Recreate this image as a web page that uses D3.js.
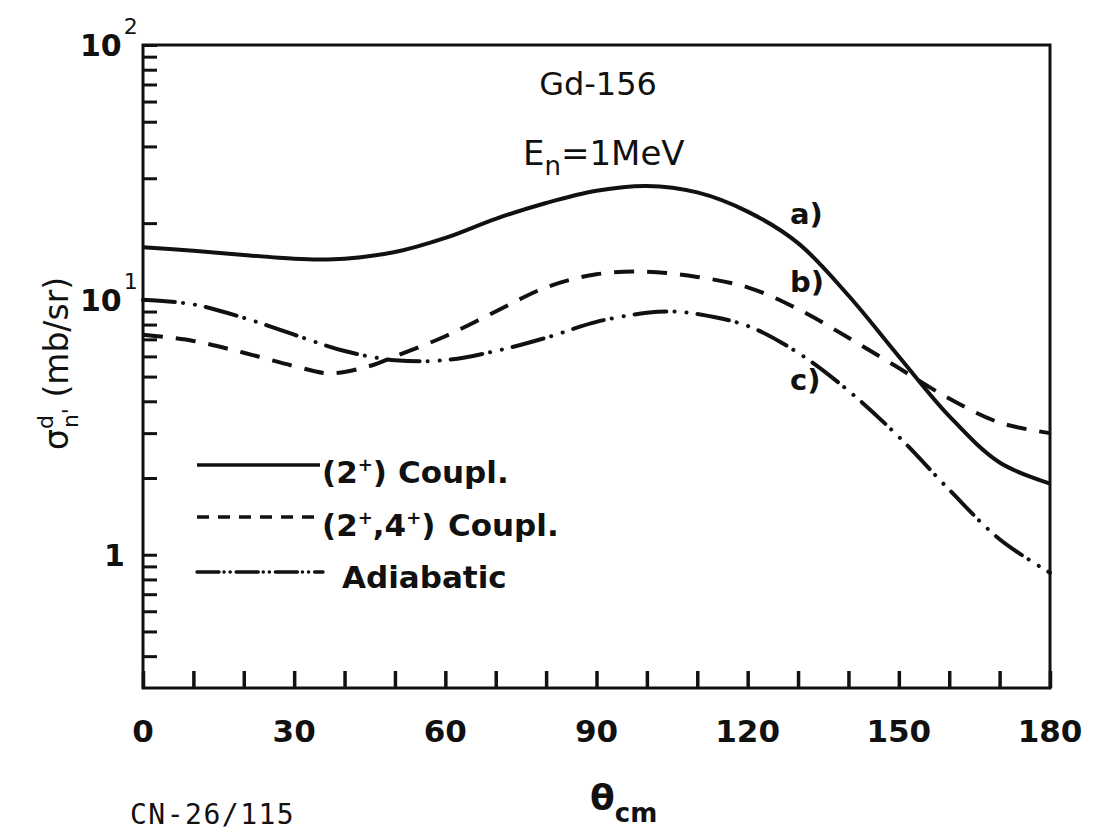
<!DOCTYPE html>
<html>
<head>
<meta charset="utf-8">
<script src="https://cdn.jsdelivr.net/npm/d3@7"></script>
<style>
  html, body { margin: 0; padding: 0; background: #fff; }
  svg { display: block; }
  text { fill: #111; }
</style>
</head>
<body>
<svg id="chart" width="1093" height="834"></svg>
<script>
// ---------------- data ----------------
const thetaA = [0, 10, 20, 30, 35, 40, 50, 60, 70, 80, 90, 100, 110, 120, 130, 140, 150, 160, 170, 180];
const coupl2 = [16.1, 15.6, 15.0, 14.5, 14.4, 14.5, 15.4, 17.5, 20.8, 24.0, 26.8, 28.0, 26.4, 22.2, 16.7, 10.4, 6.0, 3.5, 2.3, 1.9];

const thetaB = [0, 10, 20, 30, 37, 45, 50, 60, 70, 80, 90, 100, 110, 120, 130, 140, 150, 160, 170, 180];
const coupl24 = [7.3, 6.9, 6.2, 5.5, 5.15, 5.5, 6.0, 7.2, 9.0, 11.2, 12.6, 12.9, 12.3, 11.2, 9.2, 7.1, 5.4, 4.1, 3.3, 3.0];

const thetaC = [0, 10, 20, 30, 40, 50, 60, 70, 80, 90, 100, 105, 110, 120, 130, 140, 150, 160, 170, 180];
const adiabatic = [10.0, 9.6, 8.5, 7.3, 6.3, 5.8, 5.8, 6.3, 7.1, 8.2, 8.9, 9.0, 8.8, 7.9, 6.2, 4.4, 2.9, 1.8, 1.15, 0.85];

const xTicks = [0, 30, 60, 90, 120, 150, 180];
const xMinorTicks = d3.range(0, 181, 10);
const yDomain = [0.3, 100];
const yMinorTicks = [0.4, 0.5, 0.6, 0.7, 0.8, 0.9, 1, 2, 3, 4, 5, 6, 7, 8, 9, 10, 20, 30, 40, 50, 60, 70, 80, 90, 100];
const yLabels = [{v: 100, base: "10", sup: "2"}, {v: 10, base: "10", sup: "1"}, {v: 1, base: "1", sup: ""}];
const curveLabels = ["a)", "b)", "c)"];

// ---------------- layout ----------------
const svg = d3.select("#chart");
const L = 143, R = 1050, T = 45, B = 688;
const x = d3.scaleLinear().domain([0, 180]).range([L, R]);
const y = d3.scaleLog().domain(yDomain).range([B, T]);
const ink = "#111";
const font = "'DejaVu Sans', sans-serif";

// frame
svg.append("rect").attr("x", L).attr("y", T).attr("width", R - L).attr("height", B - T)
  .attr("fill", "none").attr("stroke", ink).attr("stroke-width", 3);

// left axis ticks (inward)
const yAxis = d3.axisRight(y).tickValues(yMinorTicks).tickSize(14).tickFormat("");
const gy = svg.append("g").attr("transform", `translate(${L},0)`).call(yAxis);
gy.select(".domain").remove();
gy.selectAll(".tick line").attr("stroke", ink).attr("stroke-width", 3);

// bottom axis ticks (inward)
const xAxis = d3.axisTop(x).tickValues(xMinorTicks).tickSize(17).tickFormat("");
const gx = svg.append("g").attr("transform", `translate(0,${B})`).call(xAxis);
gx.select(".domain").remove();
gx.selectAll(".tick line").attr("stroke", ink).attr("stroke-width", 3.5);

// x tick labels
svg.append("g").selectAll("text").data(xTicks).join("text")
  .attr("x", d => x(d)).attr("y", 742)
  .attr("text-anchor", "middle")
  .attr("font-family", font).attr("font-weight", "bold").attr("font-size", 31)
  .text(d => d);

// y tick labels
const yl = svg.append("g").selectAll("text").data(yLabels).join("text")
  .attr("x", d => d.sup ? 80 : 104).attr("y", d => y(d.v) + 11)
  .attr("font-family", font).attr("font-weight", "bold").attr("font-size", 30);
yl.append("tspan").text(d => d.base);
yl.append("tspan").attr("dy", -22).attr("dx", 2).attr("font-size", 22).attr("font-weight", "normal")
  .text(d => d.sup);

// y axis title
const yt = svg.append("text")
  .attr("transform", "translate(68,450) rotate(-90)")
  .attr("font-family", font).attr("font-size", 33);
yt.append("tspan").text("σ");
yt.append("tspan").attr("dy", -15).attr("font-size", 22).text("d");
yt.append("tspan").attr("dx", -13).attr("dy", 25).attr("font-size", 22).text("n'");
yt.append("tspan").attr("dy", -10).text(" (mb/sr)");

// x axis title
const xt = svg.append("text").attr("x", 590).attr("y", 810)
  .attr("font-family", font).attr("font-weight", "bold").attr("font-size", 36);
xt.append("tspan").text("θ");
xt.append("tspan").attr("dy", 12).attr("font-size", 26).text("cm");

svg.append("text").attr("x", 130).attr("y", 824)
  .attr("font-family", "'DejaVu Sans Mono', monospace").attr("font-size", 28)
  .attr("letter-spacing", 1.5)
  .text("CN-26/115");

// titles inside plot
svg.append("text").attr("x", 598).attr("y", 95).attr("text-anchor", "middle")
  .attr("font-family", font).attr("font-size", 32).text("Gd-156");
const en = svg.append("text").attr("x", 523).attr("y", 165)
  .attr("font-family", font).attr("font-size", 34);
en.append("tspan").text("E");
en.append("tspan").attr("dy", 10).attr("font-size", 26).text("n");
en.append("tspan").attr("dy", -10).text("=1MeV");

// ---------------- curves ----------------
const lineGen = d3.line().x(d => x(d[0])).y(d => y(d[1])).curve(d3.curveCatmullRom.alpha(0.5));
const series = [
  {th: thetaA, v: coupl2, dash: null, cap: "butt"},
  {th: thetaB, v: coupl24, dash: "20,13", cap: "butt"},
  {th: thetaC, v: adiabatic, dash: "32,8,0.1,12,0.1,11", cap: "round"}
];
svg.append("g").selectAll("path").data(series).join("path")
  .attr("d", s => lineGen(s.th.map((t, i) => [t, s.v[i]])))
  .attr("fill", "none").attr("stroke", ink).attr("stroke-width", 4)
  .attr("stroke-dasharray", s => s.dash).attr("stroke-linecap", s => s.cap);

// curve labels
svg.append("g").selectAll("text").data(curveLabels).join("text")
  .attr("x", 790).attr("y", (d, i) => [224, 292, 390][i])
  .attr("font-family", font).attr("font-weight", "bold").attr("font-size", 29)
  .text(d => d);

// ---------------- legend ----------------
const legendRows = [
  {y: 465, dash: null, cap: "butt", x2: 320},
  {y: 517, dash: "12,9", cap: "butt", x2: 320},
  {y: 572, dash: "22,5,0.1,6,0.1,6", cap: "round", x2: 323}
];
svg.append("g").selectAll("line").data(legendRows).join("line")
  .attr("x1", 197).attr("x2", d => d.x2).attr("y1", d => d.y).attr("y2", d => d.y)
  .attr("stroke", ink).attr("stroke-width", 3.5)
  .attr("stroke-dasharray", d => d.dash).attr("stroke-linecap", d => d.cap);

const lg = svg.append("g").attr("font-family", font).attr("font-weight", "bold").attr("font-size", 31);
const t1 = lg.append("text").attr("x", 322).attr("y", 483);
t1.append("tspan").text("(2");
t1.append("tspan").attr("dy", -12).attr("font-size", 18).text("+");
t1.append("tspan").attr("dy", 12).text(")");
lg.append("text").attr("x", 398).attr("y", 483).text("Coupl.");
const t2 = lg.append("text").attr("x", 322).attr("y", 536);
t2.append("tspan").text("(2");
t2.append("tspan").attr("dy", -12).attr("font-size", 18).text("+");
t2.append("tspan").attr("dy", 12).text(",4");
t2.append("tspan").attr("dy", -12).attr("font-size", 18).text("+");
t2.append("tspan").attr("dy", 12).text(")");
lg.append("text").attr("x", 448).attr("y", 536).text("Coupl.");
lg.append("text").attr("x", 342).attr("y", 588).text("Adiabatic");
</script>
</body>
</html>
